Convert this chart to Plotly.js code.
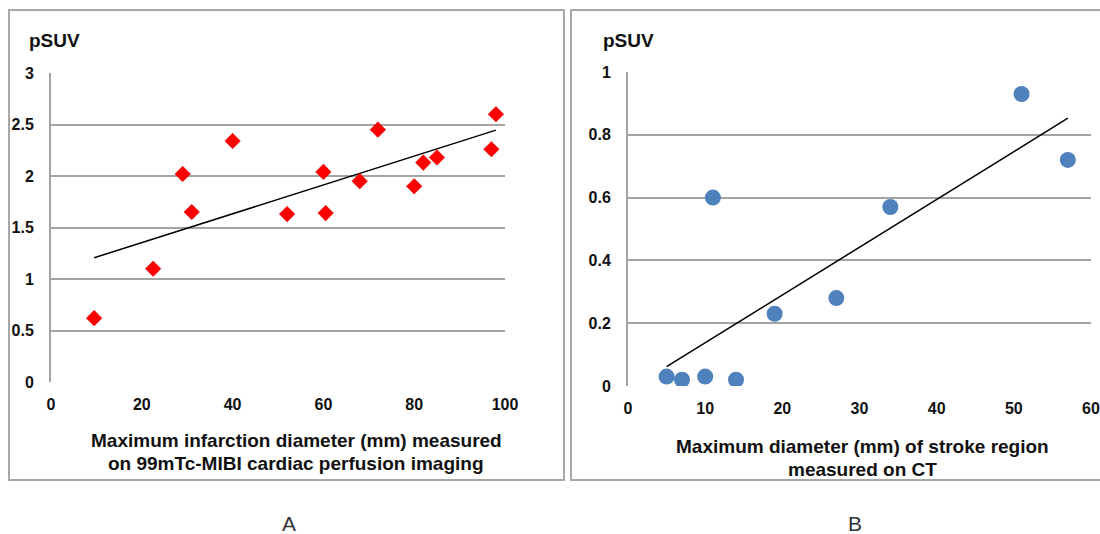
<!DOCTYPE html>
<html>
<head>
<meta charset="utf-8">
<script src="https://cdn.plot.ly/plotly-3.0.1.min.js"></script>
<style>html,body{margin:0;padding:0;background:#fff;}#chart{width:1100px;height:534px;}</style>
</head>
<body>
<div id="chart"></div>
<script>
// Panel A: infarction diameter vs pSUV
const infarctDiameter = [9.5, 22.5, 29, 31, 40, 52, 60, 60.5, 68, 72, 80, 82, 85, 97, 98];
const infarctPSUV     = [0.62, 1.10, 2.02, 1.65, 2.34, 1.63, 2.04, 1.64, 1.95, 2.45, 1.90, 2.13, 2.18, 2.26, 2.60];
// Panel B: stroke region diameter vs pSUV
const strokeDiameter = [5, 7, 10, 14, 11, 19, 27, 34, 51, 57];
const strokePSUV     = [0.03, 0.02, 0.03, 0.02, 0.60, 0.23, 0.28, 0.57, 0.93, 0.72];

const xTitleA = ["Maximum infarction diameter (mm) measured", "on 99mTc-MIBI cardiac perfusion imaging"];
const xTitleB = ["Maximum diameter (mm) of stroke region", "measured on CT"];
const yTitle = "pSUV";
const panelLabels = ["A", "B"];

function linFit(xs, ys) {
  const n = xs.length;
  const mx = xs.reduce((a, b) => a + b, 0) / n;
  const my = ys.reduce((a, b) => a + b, 0) / n;
  let sxy = 0, sxx = 0;
  for (let i = 0; i < n; i++) { sxy += (xs[i] - mx) * (ys[i] - my); sxx += (xs[i] - mx) ** 2; }
  const b = sxy / sxx, a = my - b * mx;
  const x0 = Math.min(...xs), x1 = Math.max(...xs);
  return { x: [x0, x1], y: [a + b * x0, a + b * x1] };
}
const fitA = linFit(infarctDiameter, infarctPSUV);
const fitB = linFit(strokeDiameter, strokePSUV);

const W = 1100, H = 534;
const px = v => v / W;
const py = v => 1 - v / H;

const FONT = "Liberation Sans, Arial, sans-serif";
const GRID = "#a3a3a3";

const traces = [
  { x: fitA.x, y: fitA.y, xaxis: "x", yaxis: "y", mode: "lines", line: { color: "#000", width: 1.5 }, hoverinfo: "skip" },
  { x: infarctDiameter, y: infarctPSUV, xaxis: "x", yaxis: "y", mode: "markers",
    marker: { symbol: "diamond", size: 12, color: "#ff0000", line: { color: "#d40000", width: 0.5 } } },
  { x: fitB.x, y: fitB.y, xaxis: "x2", yaxis: "y2", mode: "lines", line: { color: "#000", width: 1.5 }, hoverinfo: "skip" },
  { x: strokeDiameter, y: strokePSUV, xaxis: "x2", yaxis: "y2", mode: "markers",
    marker: { symbol: "circle", size: 16, color: "#4f81bd", line: { width: 0 } } }
];

const tickFont = { family: FONT, size: 16, color: "#111", weight: "bold" };
const titleFont = { family: FONT, size: 19, color: "#111", weight: "bold" };

function xAxis(domain, range, dtick, anchor) {
  return {
    domain: domain, range: range, dtick: dtick, tick0: 0, anchor: anchor,
    showgrid: false, zeroline: false, showline: false, ticks: "",
    tickfont: tickFont, ticklabelstandoff: 11
  };
}
function yAxis(domain, range, dtick, anchor) {
  return {
    domain: domain, range: range, dtick: dtick, tick0: 0, anchor: anchor,
    showgrid: true, gridcolor: GRID, gridwidth: 2, zeroline: false,
    showline: true, linecolor: GRID, linewidth: 2, ticks: "",
    tickfont: tickFont, ticklabelstandoff: 12
  };
}

function label(x, y, text, font, xanchor) {
  return { xref: "paper", yref: "paper", x: px(x), y: py(y), xanchor: xanchor || "center", yanchor: "middle",
           showarrow: false, text: text, font: font };
}

const layout = {
  width: W, height: H,
  margin: { l: 0, r: 0, t: 0, b: 0 },
  paper_bgcolor: "#fff", plot_bgcolor: "rgba(0,0,0,0)",
  showlegend: false,
  font: { family: FONT },
  xaxis: xAxis([px(51), px(505)], [0, 100], 20, "y"),
  yaxis: yAxis([py(382), py(73)], [0, 3], 0.5, "x"),
  xaxis2: xAxis([px(628), px(1091)], [0, 60], 10, "y2"),
  yaxis2: yAxis([py(386), py(72)], [0, 1], 0.2, "x2"),
  shapes: [
    { type: "rect", xref: "paper", yref: "paper", x0: px(9), x1: px(564), y0: py(480), y1: py(10), line: { color: "#a8a8a8", width: 2 } },
    { type: "rect", xref: "paper", yref: "paper", x0: px(571), x1: px(1104), y0: py(480), y1: py(10), line: { color: "#a8a8a8", width: 2 } }
  ],
  annotations: [
    label(27, 41, yTitle, titleFont, "left"),
    label(601, 41, yTitle, titleFont, "left"),
    label(296, 440, xTitleA[0], titleFont),
    label(296, 463, xTitleA[1], titleFont),
    label(862, 446, xTitleB[0], titleFont),
    label(862, 469, xTitleB[1], titleFont),
    label(289, 523, panelLabels[0], { family: FONT, size: 21, color: "#333" }),
    label(855, 523, panelLabels[1], { family: FONT, size: 21, color: "#333" })
  ]
};

Plotly.newPlot("chart", traces, layout, { staticPlot: true, displayModeBar: false });
</script>
</body>
</html>
